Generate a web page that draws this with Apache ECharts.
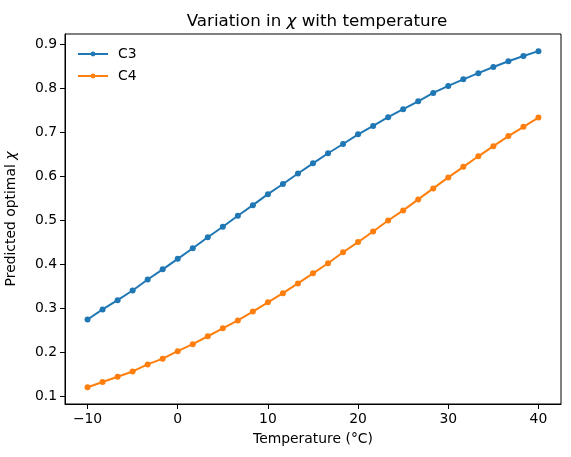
<!DOCTYPE html>
<html><head><meta charset="utf-8">
<script src="https://cdn.jsdelivr.net/npm/echarts@6/dist/echarts.min.js"></script>
<style>html,body{margin:0;padding:0;background:#fff}#c{width:571px;height:457px}</style>
</head><body><div id="c"></div>
<script>
var temps = [-10, -8.333, -6.667, -5, -3.333, -1.667, 0, 1.667, 3.333, 5, 6.667, 8.333, 10, 11.667, 13.333, 15, 16.667, 18.333, 20, 21.667, 23.333, 25, 26.667, 28.333, 30, 31.667, 33.333, 35, 36.667, 38.333, 40];
var c3 = [0.274, 0.297, 0.318, 0.340, 0.365, 0.388, 0.412, 0.436, 0.461, 0.485, 0.510, 0.534, 0.559, 0.582, 0.606, 0.629, 0.652, 0.673, 0.695, 0.714, 0.734, 0.752, 0.770, 0.789, 0.805, 0.820, 0.834, 0.848, 0.861, 0.873, 0.884];
var c4 = [0.120, 0.132, 0.144, 0.156, 0.172, 0.185, 0.202, 0.218, 0.236, 0.254, 0.272, 0.292, 0.313, 0.334, 0.356, 0.379, 0.402, 0.427, 0.450, 0.474, 0.499, 0.522, 0.547, 0.572, 0.597, 0.621, 0.645, 0.668, 0.691, 0.712, 0.733];
var xTicks = [-10, 0, 10, 20, 30, 40];
var yTicks = [0.1, 0.2, 0.3, 0.4, 0.5, 0.6, 0.7, 0.8, 0.9];
var seriesNames = ['C3', 'C4'];
var colors = ['#1f77b4', '#ff7f0e'];

function pairs(ys){ return temps.map(function(t,i){ return [t, ys[i]]; }); }
var font = 'DejaVu Sans';
var chart = echarts.init(document.getElementById('c'), null, {renderer:'canvas'});
var axisCommon = {
  axisLine:{show:true, onZero:false, lineStyle:{color:'#000', width:1}},
  axisTick:{show:true, inside:false, length:5, lineStyle:{color:'#000', width:1}},
  splitLine:{show:false},
  axisLabel:{color:'#000', fontFamily:font, fontSize:13.9},
  nameTextStyle:{color:'#000', fontFamily:font, fontSize:13.9}
};
chart.setOption({
  animation:false,
  color: colors,
  title:{
    text:'{a|Variation in }{b|χ}{a| with temperature}',
    left:312, textAlign:'center', top:8,
    textStyle:{fontWeight:'normal', rich:{
      a:{fontFamily:font, fontSize:16.7, color:'#000', fontWeight:'normal'},
      b:{fontFamily:font, fontSize:16.7, color:'#000', fontStyle:'italic', fontWeight:'normal'}
    }}
  },
  legend:{
    show:true, orient:'vertical', left:77, top:46, padding:0, itemWidth:30, itemHeight:6, itemGap:6,
    data:[{name:'C3'},{name:'C4'}],
    textStyle:{fontFamily:font, fontSize:13.9, color:'#000', padding:[0,0,0,5], lineHeight:16}
  },
  grid:{left:65, right:10, top:34, bottom:53, show:true, borderColor:'#000', borderWidth:1, containLabel:false, outerBoundsMode:'none'},
  xAxis: Object.assign({}, axisCommon, {
    type:'value', min:-12.5, max:42.5,
    name:'Temperature (°C)', nameLocation:'middle', nameGap:28,
    axisTick:Object.assign({}, axisCommon.axisTick, {customValues:xTicks}),
    axisLabel:Object.assign({}, axisCommon.axisLabel, {customValues:xTicks, margin:8,
      formatter:function(v){ return String(v).replace('-', '\u2212'); }})
  }),
  yAxis: Object.assign({}, axisCommon, {
    type:'value', min:0.082, max:0.923,
    name:'{a|Predicted optimal }{b|χ}', nameLocation:'middle', nameGap:47,
    nameTextStyle:{rich:{
      a:{fontFamily:font, fontSize:13.9, color:'#000'},
      b:{fontFamily:font, fontSize:13.9, color:'#000', fontStyle:'italic'}
    }},
    axisTick:Object.assign({}, axisCommon.axisTick, {customValues:yTicks}),
    axisLabel:Object.assign({}, axisCommon.axisLabel, {customValues:yTicks, margin:8,
      formatter:function(v){ return v.toFixed(1); }})
  }),
  series:[
    {name:seriesNames[0], type:'line', data:pairs(c3), symbol:'circle', symbolSize:6, showSymbol:true,
     lineStyle:{width:2, color:colors[0]}, itemStyle:{color:colors[0]}},
    {name:seriesNames[1], type:'line', data:pairs(c4), symbol:'circle', symbolSize:6, showSymbol:true,
     lineStyle:{width:2, color:colors[1]}, itemStyle:{color:colors[1]}}
  ]
});
</script></body></html>
